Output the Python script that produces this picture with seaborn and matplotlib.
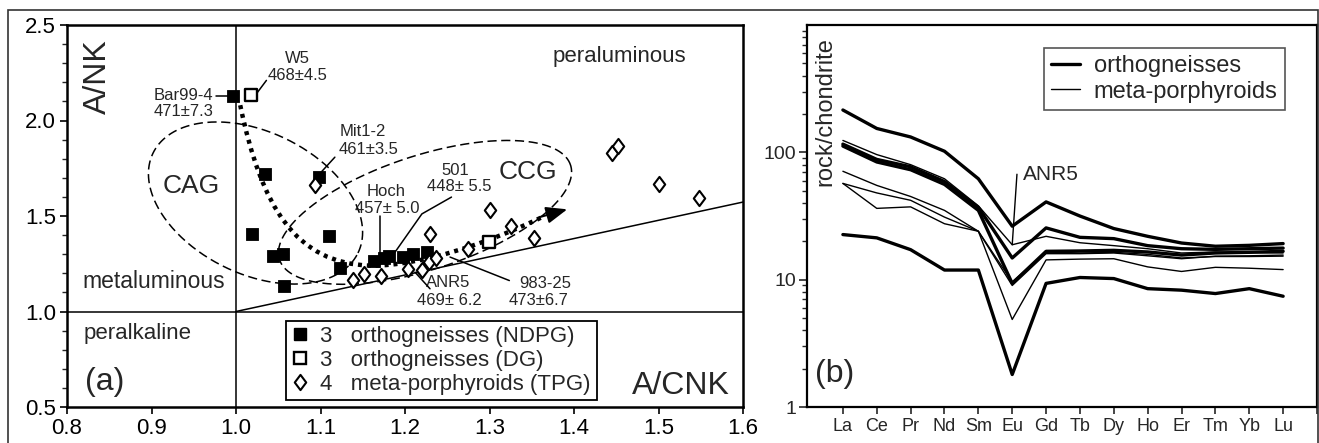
import numpy as np
import pandas as pd
import matplotlib
matplotlib.use("Agg")
import matplotlib.pyplot as plt
from matplotlib.lines import Line2D
from matplotlib.path import Path
from matplotlib.patches import PathPatch, Rectangle
from matplotlib.ticker import FixedLocator, MultipleLocator, LogLocator, NullFormatter
import seaborn as sns

sns.set_style("ticks")
plt.rcParams["font.family"] = ["Liberation Sans", "DejaVu Sans"]

# ---------------- panel (a) data : A/CNK vs A/NK ----------------
ndpg_acnk = [0.996, 1.034, 1.019, 1.110, 1.044, 1.056, 1.057, 1.123, 1.163, 1.175,
             1.181, 1.198, 1.209, 1.226, 1.098]
ndpg_ank = [2.128, 1.721, 1.407, 1.393, 1.288, 1.302, 1.133, 1.227, 1.267, 1.280,
            1.290, 1.285, 1.302, 1.311, 1.704]
dg_acnk = [1.018, 1.299]
dg_ank = [2.136, 1.363]
tpg_acnk = [1.094, 1.138, 1.152, 1.172, 1.203, 1.220, 1.230, 1.228, 1.237, 1.275,
            1.300, 1.325, 1.353, 1.445, 1.452, 1.500, 1.548]
tpg_ank = [1.660, 1.166, 1.197, 1.185, 1.220, 1.215, 1.407, 1.259, 1.281, 1.328,
           1.534, 1.450, 1.384, 1.831, 1.864, 1.669, 1.595]

legend_labels_a = ["3   orthogneisses (NDPG)", "3   orthogneisses (DG)", "4   meta-porphyroids (TPG)"]

# ---------------- panel (b) data : REE / chondrite ----------------
ree = ["La", "Ce", "Pr", "Nd", "Sm", "Eu", "Gd", "Tb", "Dy", "Ho", "Er", "Tm", "Yb", "Lu"]
ortho_1 = [215, 154, 132, 102, 62, 26.3, 40.8, 31.6, 25.2, 21.9, 19.4, 18.3, 18.6, 19.2]
ortho_2 = [116, 88, 77, 59, 37, 14.8, 25.5, 21.5, 21.0, 18.5, 17.5, 17.3, 17.5, 17.7]
ortho_3 = [112, 84, 73, 56, 35, 9.35, 16.7, 16.8, 17.0, 16.5, 15.6, 16.2, 16.4, 16.7]
ortho_4 = [22.6, 21.3, 17.2, 11.9, 11.9, 1.8, 9.35, 10.4, 10.2, 8.5, 8.27, 7.78, 8.5, 7.41]
meta_1 = [124, 96, 80, 62, 38, 18.8, 21.9, 19.5, 18.5, 17.5, 16.2, 16.5, 16.3, 16.2]
meta_2 = [71, 55, 45, 35, 24, 9.6, 16.5, 16.2, 16.4, 15.8, 14.8, 15.2, 15.2, 15.3]
meta_3 = [57, 48, 42, 31, 24, 4.87, 14.3, 14.5, 14.6, 12.6, 11.6, 12.5, 12.3, 12.0]
meta_4 = [57, 36.3, 37.3, 27.5, 24, 9.0, 16.0, 16.0, 16.2, 15.4, 14.6, 15.3, 15.4, 15.6]

rows = []
for name, grp, vals in [("o1", "orthogneisses", ortho_1), ("o2", "orthogneisses", ortho_2),
                        ("o3", "orthogneisses", ortho_3), ("o4", "orthogneisses", ortho_4),
                        ("m1", "meta-porphyroids", meta_1), ("m2", "meta-porphyroids", meta_2),
                        ("m3", "meta-porphyroids", meta_3), ("m4", "meta-porphyroids", meta_4)]:
    for i, v in enumerate(vals):
        rows.append({"sample": name, "group": grp, "idx": i, "value": v})
ree_df = pd.DataFrame(rows)

# ---------------- figure ----------------
W, H = 1319, 443
fig = plt.figure(figsize=(W / 100, H / 100), dpi=100)

def px_box(x0, y0, x1, y1):
    return [x0 / W, 1 - y1 / H, (x1 - x0) / W, (y1 - y0) / H]

axa = fig.add_axes(px_box(67, 25, 743, 407))
axb = fig.add_axes(px_box(807, 25, 1317, 407))

# outer frame of the figure
fig.patches.append(Rectangle((8 / W, -0.05), (1318 - 8) / W, 1 - 10 / H + 0.05,
                             transform=fig.transFigure, fill=False, lw=1.2,
                             edgecolor="#333333", zorder=0))

# ================= panel (a) =================
ax = axa
XMIN, XMAX, YMIN, YMAX = 0.8, 1.6, 0.5, 2.5
ax.set_xlim(XMIN, XMAX)
ax.set_ylim(YMIN, YMAX)
sx = 676 / (XMAX - XMIN)   # px per data unit
sy = 382 / (YMAX - YMIN)

# field boundaries
ax.axvline(1.0, color="k", lw=1.1, zorder=2)
ax.axhline(1.0, color="k", lw=1.1, zorder=2)
ax.plot([1.0, 1.6], [1.0, 1.573], color="k", lw=1.1, zorder=2)

def ellipse(cx, cy, a_px, b_px, ang):
    t = np.linspace(0, 2 * np.pi, 300)
    th = np.deg2rad(ang)
    u = a_px * np.cos(t)
    v = b_px * np.sin(t)
    du = u * np.cos(th) - v * np.sin(th)
    dv = u * np.sin(th) + v * np.cos(th)
    return cx + du / sx, cy + dv / sy

for (cx, cy, a, b, ang) in [(1.0231, 1.568, 114, 71, -26), (1.2237, 1.519, 153, 57, 18)]:
    ex, ey = ellipse(cx, cy, a, b, ang)
    ax.plot(ex, ey, color="k", lw=1.1, ls=(0, (6, 3)), zorder=2)

# dotted trend arrow
verts = [(1.005, 2.08), (1.03, 1.55), (1.07, 1.25), (1.16, 1.24),
         (1.22, 1.24), (1.30, 1.36), (1.365, 1.50)]
codes = [Path.MOVETO] + [Path.CURVE4] * 6
ax.add_patch(PathPatch(Path(verts, codes), fill=False, lw=3.2, ls=(0, (0.9, 1.1)),
                       edgecolor="k", zorder=3))
ax.annotate("", xy=(1.392, 1.535), xytext=(1.36, 1.495),
            arrowprops=dict(arrowstyle="-|>,head_length=0.8,head_width=0.32",
                            color="k", lw=1.5, shrinkA=0, shrinkB=0, mutation_scale=16),
            zorder=3)

# points
sns.scatterplot(x=ndpg_acnk, y=ndpg_ank, marker="s", s=78, color="black",
                edgecolor="black", linewidth=0.6, ax=ax, zorder=4)
sns.scatterplot(x=dg_acnk, y=dg_ank, marker="s", s=72, color="white",
                edgecolor="black", linewidth=1.7, ax=ax, zorder=5)
diamond = Path([(0, 1), (0.75, 0), (0, -1), (-0.75, 0), (0, 1)],
               [Path.MOVETO, Path.LINETO, Path.LINETO, Path.LINETO, Path.CLOSEPOLY])
sns.scatterplot(x=tpg_acnk, y=tpg_ank, marker=diamond, s=120, color="white",
                edgecolor="black", linewidth=1.5, ax=ax, zorder=5)

# sample labels with leader lines
lab_fs = 12
def lead(pts):
    xs, ys = zip(*pts)
    ax.plot(xs, ys, color="k", lw=1.1, zorder=3)

ax.text(0.902, 2.129, "Bar99-4", fontsize=lab_fs, ha="left", va="center")
ax.text(0.902, 2.046, "471±7.3", fontsize=lab_fs, ha="left", va="center")
lead([(0.976, 2.129), (0.990, 2.129)])

ax.text(1.0725, 2.323, "W5", fontsize=lab_fs, ha="center", va="center")
ax.text(1.0728, 2.234, "468±4.5", fontsize=lab_fs, ha="center", va="center")
lead([(1.036, 2.21), (1.025, 2.145)])

ax.text(1.150, 1.941, "Mit1-2", fontsize=lab_fs, ha="center", va="center")
ax.text(1.157, 1.848, "461±3.5", fontsize=lab_fs, ha="center", va="center")
lead([(1.117, 1.808), (1.099, 1.721)])

ax.text(1.178, 1.630, "Hoch", fontsize=lab_fs, ha="center", va="center")
ax.text(1.179, 1.541, "457± 5.0", fontsize=lab_fs, ha="center", va="center")
lead([(1.1704, 1.499), (1.1704, 1.29)])

ax.text(1.260, 1.738, "501", fontsize=lab_fs, ha="center", va="center")
ax.text(1.264, 1.653, "448± 5.5", fontsize=lab_fs, ha="center", va="center")
lead([(1.255, 1.599), (1.220, 1.511), (1.186, 1.297)])

ax.text(1.2515, 1.150, "ANR5", fontsize=lab_fs, ha="center", va="center")
ax.text(1.2527, 1.056, "469± 6.2", fontsize=lab_fs, ha="center", va="center")
lead([(1.2296, 1.119), (1.2118, 1.206)])

ax.text(1.3657, 1.145, "983-25", fontsize=lab_fs, ha="center", va="center")
ax.text(1.3586, 1.056, "473±6.7", fontsize=lab_fs, ha="center", va="center")
lead([(1.3235, 1.162), (1.2533, 1.285)])

# region / axis labels
ax.text(0.8367, 2.228, "A/NK", fontsize=23, rotation=90, ha="center", va="center")
ax.text(1.4533, 2.333, "peraluminous", fontsize=16, ha="center", va="center")
ax.text(0.9467, 1.658, "CAG", fontsize=19, ha="center", va="center")
ax.text(1.3456, 1.731, "CCG", fontsize=19, ha="center", va="center")
ax.text(0.903, 1.156, "metaluminous", fontsize=16.5, ha="center", va="center")
ax.text(0.8834, 0.883, "peralkaline", fontsize=16, ha="center", va="center")
ax.text(0.845, 0.632, "(a)", fontsize=23, ha="center", va="center")
ax.text(1.5266, 0.611, "A/CNK", fontsize=23, ha="center", va="center")

ax.xaxis.set_major_locator(MultipleLocator(0.1))
ax.yaxis.set_major_locator(MultipleLocator(0.5))
ax.yaxis.set_minor_locator(MultipleLocator(0.1))
ax.xaxis.set_major_formatter(plt.FormatStrFormatter("%.1f"))
ax.yaxis.set_major_formatter(plt.FormatStrFormatter("%.1f"))
ax.tick_params(axis="both", which="major", direction="out", length=5, width=1.2,
               labelsize=16, pad=3, colors="k")
ax.tick_params(axis="y", which="minor", direction="out", length=3.5, width=1.0)
for sp in ax.spines.values():
    sp.set_linewidth(1.8)
    sp.set_color("k")
    sp.set_visible(True)

handles_a = [
    Line2D([], [], ls="none", marker="s", ms=8.5, mfc="black", mec="black"),
    Line2D([], [], ls="none", marker="s", ms=8.5, mfc="white", mec="black", mew=1.7),
    Line2D([], [], ls="none", marker=diamond, ms=11, mfc="white", mec="black", mew=1.5),
]
leg = ax.legend(handles_a, legend_labels_a, loc="lower left", bbox_to_anchor=(0.324, 0.018),
                borderaxespad=0, frameon=True, fancybox=False, framealpha=1, fontsize=16,
                handlelength=0.8, handletextpad=0.5, labelspacing=0.12, borderpad=0.25)
leg.get_frame().set_edgecolor("k")
leg.get_frame().set_linewidth(1.3)
leg.set_zorder(10)

# ================= panel (b) =================
ax = axb
for sample, sub in ree_df.groupby("sample", sort=False):
    lw = 2.4 if sub["group"].iloc[0] == "orthogneisses" else 1.0
    sns.lineplot(data=sub, x="idx", y="value", color="black", lw=lw, ax=ax,
                 estimator=None, legend=False, zorder=3 if lw < 2 else 2)
ax.set_yscale("log")
ax.set_ylim(1, 1000)
ax.set_xlim(-1.06, 14.0)
ax.xaxis.set_major_locator(FixedLocator(list(range(15))))
ax.set_xticklabels(ree + [""])
ax.yaxis.set_major_locator(FixedLocator([1, 10, 100]))
ax.set_yticklabels(["1", "10", "100"])
ax.yaxis.set_minor_locator(LogLocator(base=10, subs=np.arange(2, 10), numticks=20))
ax.yaxis.set_minor_formatter(NullFormatter())
ax.set_xlabel("")
ax.set_ylabel("")
ax.tick_params(axis="x", which="major", direction="out", length=5, width=1.2,
               labelsize=13, pad=3)
ax.tick_params(axis="y", which="major", direction="out", length=6, width=1.2,
               labelsize=14, pad=2)
ax.tick_params(axis="y", which="minor", direction="out", length=3.5, width=1.0)
for sp in ax.spines.values():
    sp.set_linewidth(1.6)
    sp.set_color("k")
    sp.set_visible(True)

ax.text(0.037, 0.7735, "rock/chondrite", transform=ax.transAxes, rotation=90,
        fontsize=17, ha="center", va="center")
ax.text(5.318, 67.3, "ANR5", fontsize=15, ha="left", va="center")
ax.plot([5.14, 5.0], [67.3, 18.8], color="k", lw=1.0, zorder=4)
ax.text(-0.236, 1.80, "(b)", fontsize=23, ha="center", va="center")

handles_b = [Line2D([], [], color="k", lw=2.4), Line2D([], [], color="k", lw=1.0)]
legb = ax.legend(handles_b, ["orthogneisses", "meta-porphyroids"], loc="upper right",
                 bbox_to_anchor=(0.937, 0.94), borderaxespad=0, frameon=True, fancybox=False,
                 framealpha=1, fontsize=17, handlelength=1.2, handletextpad=0.6,
                 labelspacing=0.15, borderpad=0.3)
legb.get_frame().set_edgecolor("#555555")
legb.get_frame().set_linewidth(1.2)

fig.savefig("out.png", dpi=100)
